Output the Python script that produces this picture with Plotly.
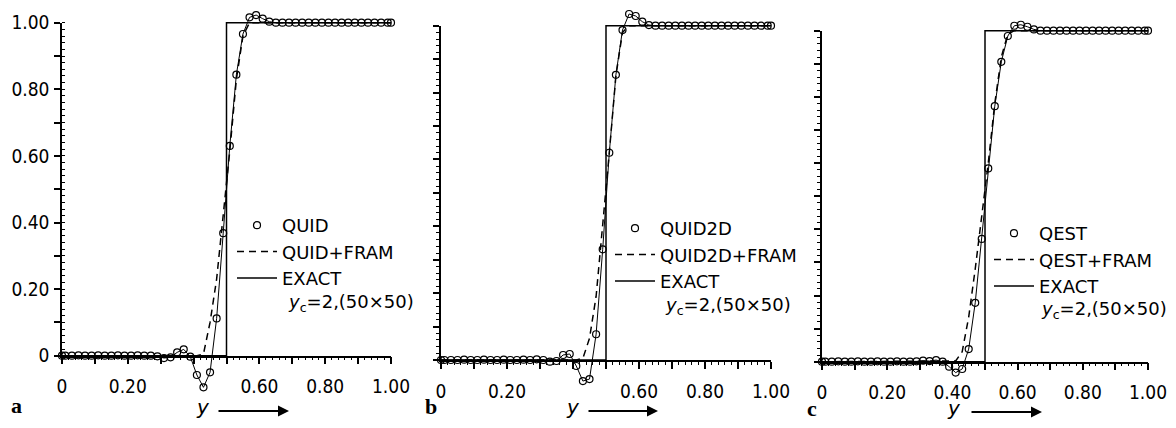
import plotly.graph_objects as go

# ---------------- data ----------------
y_pos = [0.00, 0.01, 0.03, 0.05, 0.07, 0.09, 0.11, 0.13, 0.15, 0.17, 0.19,
         0.21, 0.23, 0.25, 0.27, 0.29, 0.31, 0.33, 0.35, 0.37, 0.39,
         0.41, 0.43, 0.45, 0.47, 0.49, 0.51, 0.53, 0.55, 0.57, 0.59,
         0.61, 0.63, 0.65, 0.67, 0.69, 0.71, 0.73, 0.75, 0.77, 0.79,
         0.81, 0.83, 0.85, 0.87, 0.89, 0.91, 0.93, 0.95, 0.97, 0.99, 1.00]

# panel a
quid = [0.000, 0.000, 0.000, 0.001, 0.000, 0.000, 0.001, 0.000, 0.000, 0.001, 0.000,
        0.000, 0.001, 0.000, 0.000, -0.002, -0.007, -0.005, 0.010, 0.019, -0.003,
        -0.058, -0.095, -0.050, 0.112, 0.368, 0.630, 0.844, 0.966, 1.016, 1.023,
        1.012, 1.003, 1.000, 1.000, 1.000, 1.000, 1.000, 1.000, 1.000, 1.000,
        1.000, 1.000, 1.000, 1.000, 1.000, 1.000, 1.000, 1.000, 1.000, 1.000, 1.000]
quid_fram = [0.000, 0.000, 0.000, 0.000, 0.000, 0.000, 0.000, 0.000, 0.000, 0.000, 0.000,
             0.000, 0.000, 0.000, 0.000, 0.000, 0.000, 0.000, 0.000, 0.000, 0.000,
             0.000, 0.005, 0.100, 0.230, 0.415, 0.615, 0.830, 0.960, 1.000, 1.000,
             1.000, 1.000, 1.000, 1.000, 1.000, 1.000, 1.000, 1.000, 1.000, 1.000,
             1.000, 1.000, 1.000, 1.000, 1.000, 1.000, 1.000, 1.000, 1.000, 1.000, 1.000]

# panel b
quid2d = [0.000, 0.000, 0.000, 0.000, 0.001, 0.000, 0.000, 0.001, 0.000, 0.000, 0.001,
          0.000, 0.000, 0.001, 0.000, 0.002, 0.000, -0.005, -0.003, 0.015, 0.018,
          -0.018, -0.063, -0.057, 0.077, 0.331, 0.620, 0.853, 0.987, 1.035, 1.029,
          1.012, 1.002, 1.000, 1.000, 1.000, 1.000, 1.000, 1.000, 1.000, 1.000,
          1.000, 1.000, 1.000, 1.000, 1.000, 1.000, 1.000, 1.000, 1.000, 1.000, 1.000]
quid2d_fram = [0.000, 0.000, 0.000, 0.000, 0.000, 0.000, 0.000, 0.000, 0.000, 0.000, 0.000,
               0.000, 0.000, 0.000, 0.000, 0.000, 0.000, 0.000, 0.000, 0.000, 0.000,
               0.000, 0.005, 0.065, 0.190, 0.400, 0.620, 0.850, 0.980, 1.000, 1.000,
               1.000, 1.000, 1.000, 1.000, 1.000, 1.000, 1.000, 1.000, 1.000, 1.000,
               1.000, 1.000, 1.000, 1.000, 1.000, 1.000, 1.000, 1.000, 1.000, 1.000, 1.000]

# panel c
qest = [0.000, 0.000, 0.000, 0.001, 0.000, 0.000, 0.001, 0.000, 0.000, 0.001, 0.000,
        0.000, 0.001, 0.000, 0.000, 0.001, 0.003, 0.002, 0.005, 0.000, -0.015,
        -0.033, -0.022, 0.038, 0.178, 0.371, 0.584, 0.772, 0.906, 0.984, 1.015,
        1.018, 1.012, 1.004, 1.000, 1.000, 1.000, 1.000, 1.000, 1.000, 1.000,
        1.000, 1.000, 1.000, 1.000, 1.000, 1.000, 1.000, 1.000, 1.000, 1.000, 1.000]
qest_fram = [0.000, 0.000, 0.000, 0.000, 0.000, 0.000, 0.000, 0.000, 0.000, 0.000, 0.000,
             0.000, 0.000, 0.000, 0.000, 0.000, 0.000, 0.000, 0.000, 0.000, 0.000,
             0.002, 0.030, 0.135, 0.280, 0.435, 0.600, 0.780, 0.920, 0.990, 1.000,
             1.000, 1.000, 1.000, 1.000, 1.000, 1.000, 1.000, 1.000, 1.000, 1.000,
             1.000, 1.000, 1.000, 1.000, 1.000, 1.000, 1.000, 1.000, 1.000, 1.000, 1.000]

# exact step solution
exact_x = [0.0, 0.5, 0.5, 1.0]
exact_v = [0.0, 0.0, 1.0, 1.0]

scheme_names = ["QUID", "QUID2D", "QEST"]
fram_names = ["QUID+FRAM", "QUID2D+FRAM", "QEST+FRAM"]
panel_letters = ["a", "b", "c"]
note_text = "<i>y</i><sub>c</sub>=2,(50×50)"

y_tickvals = [0.0, 0.1, 0.2, 0.3, 0.4, 0.5, 0.6, 0.7, 0.8, 0.9, 1.0]
y_ticktext = ["0", "", "0.20", "", "0.40", "", "0.60", "", "0.80", "", "1.00"]
x_ticktext_ab = ["0", "", "0.20", "", "", "", "0.60", "", "0.80", "", "1.00"]
x_ticktext_c = ["0", "", "0.20", "", "0.40", "", "0.60", "", "0.80", "", "1.00"]

series = [quid, quid2d, qest]
fram = [quid_fram, quid2d_fram, qest_fram]

# ---------------- layout constants (page pixels) ----------------
PAGE_W, PAGE_H = 1176, 428
OFF = 8                      # default body margin of the html page
W, H = PAGE_W - 2 * OFF, PAGE_H - 2 * OFF


def fx(px):
    return min(1.0, max(0.0, (px - OFF) / W))


def fy(py):
    return min(1.0, max(0.0, 1 - (py - OFF) / H))


# (x of value 0, x of value 1, y pixel of value 0, y pixel of value 1)
panels = [(62, 391, 355.7, 22.7), (441, 771, 360.0, 25.7), (822, 1148, 361.7, 30.7)]
DATA_LO, DATA_HI = -0.15, 1.04
legend_pos = [(232, 207), (610, 210), (989, 215)]
note_pos = [(286, 303), (663, 306), (1039, 310)]
ylab_pos = [(203, 407), (573, 407), (954, 408)]
arrow_pos = [(217, 289, 411), (587, 658, 411), (970, 1042, 412)]
letter_pos = [(16, 405), (431, 406), (812, 408)]

FONT = "DejaVu Sans Condensed, Liberation Sans Narrow, DejaVu Sans, sans-serif"
FONT_W = "DejaVu Sans, sans-serif"

fig = go.Figure()
layout = dict(width=W, height=H, margin=dict(l=0, r=0, t=0, b=0, autoexpand=False),
              paper_bgcolor="white", plot_bgcolor="rgba(0,0,0,0)",
              font=dict(family=FONT, size=19, color="black"),
              annotations=[])

for i, (px0, px1, pv0, pv1) in enumerate(panels):
    k = i + 1          # decoration axes
    d = i + 4          # data axes
    xd = [fx(px0), fx(px1)]
    yd_axes = [fy(pv0), fy(pv1)]
    s = pv0 - pv1
    yd_data = [fy(pv0 - DATA_LO * s), fy(pv1 - (DATA_HI - 1) * s)]
    xs = "" if k == 1 else str(k)
    ds = str(d)

    layout["xaxis" + xs] = dict(
        domain=xd, range=[0, 1], anchor="y" + xs, showgrid=False, zeroline=False,
        automargin=False,
        showline=True, linecolor="black", linewidth=1.5,
        tickmode="array", tickvals=y_tickvals,
        ticktext=x_ticktext_c if i == 2 else x_ticktext_ab,
        ticks="outside", ticklen=7, tickwidth=1.5, tickcolor="black",
        ticklabelstandoff=6,
        minor=dict(tickmode="linear", tick0=0, dtick=0.02, ticks="outside",
                   ticklen=3, tickwidth=1, tickcolor="black"),
        tickfont=dict(size=19, family=FONT), fixedrange=True)
    layout["yaxis" + xs] = dict(
        domain=yd_axes, range=[0, 1], anchor="x" + xs, showgrid=False, zeroline=False,
        automargin=False,
        showline=True, linecolor="black", linewidth=1.5,
        tickmode="array", tickvals=y_tickvals,
        ticktext=y_ticktext if i == 0 else [""] * len(y_tickvals),
        ticks="outside", ticklen=6, tickwidth=1.5, tickcolor="black",
        ticklabelstandoff=1,
        minor=dict(tickmode="linear", tick0=0, dtick=0.02,
                   ticks="inside" if i == 0 else "outside",
                   ticklen=3, tickwidth=1, tickcolor="black"),
        tickfont=dict(size=19, family=FONT), fixedrange=True)
    layout["xaxis" + ds] = dict(domain=xd, range=[0, 1], anchor="y" + ds,
                                visible=False, fixedrange=True, automargin=False)
    layout["yaxis" + ds] = dict(domain=yd_data, range=[DATA_LO, DATA_HI],
                                anchor="x" + ds, visible=False, fixedrange=True,
                                automargin=False)

    lg = "legend" if k == 1 else "legend" + str(k)
    # empty trace so the decoration subplot exists
    fig.add_trace(go.Scatter(x=[], y=[], xaxis="x" + xs, yaxis="y" + xs,
                             showlegend=False, hoverinfo="skip"))
    # scheme: connecting line + open circles
    fig.add_trace(go.Scatter(x=y_pos, y=series[i], mode="lines",
                             line=dict(color="black", width=1),
                             xaxis="x" + ds, yaxis="y" + ds, showlegend=False))
    fig.add_trace(go.Scatter(x=y_pos, y=series[i], mode="markers",
                             marker=dict(symbol="circle-open", size=7, color="black",
                                         line=dict(width=1.2, color="black")),
                             name=scheme_names[i], legend=lg, cliponaxis=False,
                             xaxis="x" + ds, yaxis="y" + ds))
    fig.add_trace(go.Scatter(x=y_pos, y=fram[i], mode="lines",
                             line=dict(color="black", width=1.5, dash="7px,5px"),
                             name=fram_names[i], legend=lg,
                             xaxis="x" + ds, yaxis="y" + ds))
    fig.add_trace(go.Scatter(x=exact_x, y=exact_v, mode="lines",
                             line=dict(color="black", width=1.5),
                             name="EXACT", legend=lg,
                             xaxis="x" + ds, yaxis="y" + ds))

    lx, ly = legend_pos[i]
    layout[lg] = dict(x=fx(lx), y=fy(ly), xanchor="left", yanchor="top",
                      bgcolor="rgba(0,0,0,0)", borderwidth=0,
                      font=dict(family=FONT_W, size=18, color="black"),
                      itemwidth=40, tracegroupgap=0)

    nx, ny = note_pos[i]
    layout["annotations"].append(dict(
        text=note_text, x=fx(nx), y=fy(ny), xref="paper", yref="paper",
        xanchor="left", yanchor="middle", showarrow=False,
        font=dict(family=FONT_W, size=18)))
    yx, yy = ylab_pos[i]
    layout["annotations"].append(dict(
        text="<i>y</i>", x=fx(yx), y=fy(yy), xref="paper", yref="paper",
        xanchor="center", yanchor="middle", showarrow=False,
        font=dict(family=FONT_W, size=20)))
    a0, a1, ay_ = arrow_pos[i]
    layout["annotations"].append(dict(
        text="", x=fx(a1), y=fy(ay_), xref="paper", yref="paper",
        ax=-(a1 - a0), ay=0, axref="pixel", ayref="pixel",
        showarrow=True, arrowhead=2, arrowsize=1.1, arrowwidth=2,
        arrowcolor="black", standoff=0))
    lx2, ly2 = letter_pos[i]
    layout["annotations"].append(dict(
        text="<b>" + panel_letters[i] + "</b>", x=fx(lx2), y=fy(ly2),
        xref="paper", yref="paper", xanchor="center", yanchor="middle",
        showarrow=False,
        font=dict(family="Liberation Serif, DejaVu Serif, serif", size=22)))

fig.update_layout(**layout)
fig.write_html("out.html")
